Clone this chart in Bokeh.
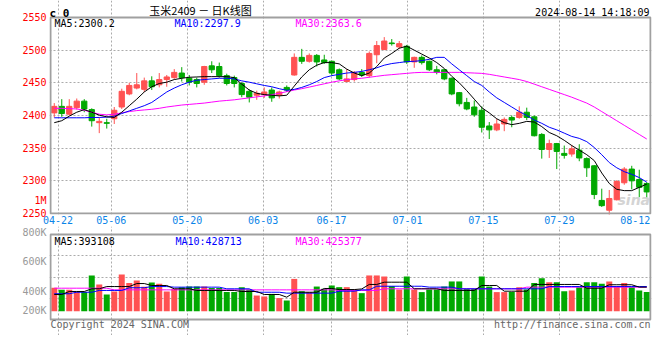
from bokeh.plotting import figure
from bokeh.layouts import column
from bokeh.models import FixedTicker, Label, Range1d, ColumnDataSource
from bokeh.embed import file_html
from bokeh.resources import INLINE

# ---------------- data ----------------
open_ = [2404, 2414, 2402, 2412, 2422, 2409, 2389, 2389, 2395, 2413,
         2433, 2442, 2440, 2453, 2447, 2455, 2458, 2465, 2457, 2455,
         2451, 2476, 2475, 2461, 2458, 2449, 2437, 2431, 2432, 2439,
         2431, 2443, 2462, 2489, 2483, 2492, 2485, 2483, 2470, 2452,
         2455, 2466, 2461, 2493, 2501, 2511, 2505, 2506, 2482, 2489,
         2483, 2470, 2470, 2457, 2435, 2420, 2413, 2408, 2384, 2378,
         2387, 2397, 2397, 2405, 2398, 2371, 2348, 2357, 2342, 2341,
         2347, 2334, 2323, 2270, 2255, 2271, 2297, 2318, 2302, 2296]
high = [2419, 2425, 2425, 2426, 2425, 2411, 2397, 2395, 2413, 2441,
        2450, 2465, 2458, 2460, 2465, 2462, 2471, 2474, 2462, 2458,
        2476, 2483, 2481, 2464, 2461, 2451, 2440, 2438, 2443, 2443,
        2438, 2446, 2495, 2502, 2495, 2494, 2493, 2484, 2472, 2471,
        2468, 2471, 2498, 2514, 2520, 2517, 2514, 2508, 2490, 2492,
        2484, 2476, 2471, 2458, 2436, 2427, 2423, 2414, 2390, 2395,
        2397, 2400, 2414, 2412, 2400, 2373, 2363, 2358, 2354, 2355,
        2356, 2336, 2324, 2288, 2286, 2301, 2321, 2323, 2317, 2298]
low = [2397, 2398, 2400, 2409, 2405, 2383, 2373, 2380, 2387, 2410,
       2431, 2440, 2436, 2439, 2443, 2444, 2456, 2452, 2446, 2443,
       2447, 2465, 2458, 2446, 2443, 2428, 2420, 2424, 2427, 2421,
       2426, 2436, 2461, 2479, 2481, 2475, 2479, 2461, 2454, 2451,
       2452, 2459, 2458, 2480, 2500, 2507, 2502, 2479, 2473, 2478,
       2468, 2463, 2454, 2431, 2414, 2408, 2398, 2374, 2364, 2376,
       2376, 2382, 2395, 2393, 2368, 2334, 2335, 2318, 2334, 2337,
       2330, 2306, 2272, 2260, 2247, 2270, 2294, 2287, 2275, 2275]
close = [2414, 2403, 2414, 2422, 2410, 2392, 2391, 2388, 2408, 2437,
         2446, 2447, 2453, 2444, 2455, 2459, 2466, 2458, 2451, 2449,
         2475, 2470, 2461, 2449, 2449, 2432, 2428, 2434, 2436, 2427,
         2436, 2439, 2489, 2483, 2492, 2482, 2481, 2465, 2456, 2456,
         2466, 2462, 2495, 2507, 2514, 2510, 2510, 2482, 2489, 2481,
         2470, 2466, 2456, 2433, 2418, 2410, 2401, 2382, 2378, 2387,
         2394, 2393, 2405, 2397, 2369, 2348, 2357, 2345, 2339, 2349,
         2335, 2320, 2279, 2262, 2273, 2299, 2318, 2300, 2290, 2283]
ma5 = [2389, 2392, 2399, 2405, 2409, 2405, 2400.5, 2398, 2397, 2405,
       2415, 2425, 2436, 2444, 2449, 2451, 2455, 2457, 2458.5, 2459,
       2459.5, 2459.5, 2459.5, 2459.5, 2458, 2448, 2439, 2434, 2432, 2431,
       2430, 2431, 2445, 2459, 2470, 2477, 2481, 2481, 2479, 2471,
       2465, 2461, 2465, 2475, 2488, 2495, 2503, 2506, 2500, 2494,
       2488, 2481, 2472, 2460, 2450, 2438, 2425, 2412, 2404, 2395,
       2389, 2386, 2388, 2391, 2390, 2383, 2374, 2369, 2362, 2354,
       2347, 2340, 2331, 2312, 2296, 2287, 2285, 2285, 2290, 2295]
ma10 = [2396.5, 2396.5, 2396.5, 2396.5, 2396.5, 2397, 2397, 2397.5, 2399, 2403,
        2407, 2411, 2415, 2420, 2428, 2436, 2442, 2447, 2451, 2454,
        2455, 2456, 2457, 2457, 2456, 2453, 2451, 2448.5, 2446, 2444,
        2441, 2438.5, 2440, 2443, 2447, 2452, 2458, 2461, 2463, 2465,
        2466, 2467.5, 2470, 2473, 2477, 2479.5, 2481, 2482.5, 2483, 2484,
        2486, 2489, 2489, 2479, 2470, 2461, 2452, 2446, 2436, 2427,
        2420, 2413, 2406, 2400, 2393, 2388, 2382, 2378, 2373, 2368,
        2365, 2360, 2351, 2340, 2328, 2320, 2314, 2310, 2305, 2298]
ma30 = [2411, 2411, 2410.5, 2410, 2408, 2405, 2402, 2401, 2402, 2404,
        2406, 2407.5, 2408.5, 2409.5, 2411, 2413, 2414.5, 2416, 2417, 2418,
        2419, 2420.5, 2422, 2423, 2424, 2425.5, 2427, 2428.5, 2430, 2432,
        2434, 2436.5, 2439, 2441, 2443.5, 2446, 2448.5, 2451, 2453, 2455,
        2456, 2457, 2458.5, 2460, 2461.5, 2462.5, 2463.5, 2464.5, 2465.5, 2466,
        2466, 2466, 2466, 2466, 2466, 2465.5, 2465, 2464.5, 2463, 2461,
        2459, 2457, 2455, 2452, 2448, 2444, 2440, 2436, 2432, 2428,
        2423.5, 2419, 2413, 2406, 2399, 2392, 2385, 2378, 2371, 2364]
volume = [425, 412, 412, 396, 396, 507, 447, 380, 400, 513,
          456, 473, 431, 460, 451, 400, 418, 429, 433, 433,
          433, 424, 424, 396, 396, 429, 413, 373, 367, 384,
          356, 340, 484, 402, 396, 433, 418, 440, 429, 429,
          413, 389, 507, 507, 500, 436, 413, 500, 413, 396,
          413, 413, 433, 467, 467, 418, 418, 500, 433, 396,
          396, 396, 429, 413, 456, 489, 462, 462, 402, 407,
          429, 462, 462, 451, 467, 436, 456, 429, 407, 396]  # thousand lots
vol_ma5 = [380, 380, 400, 400, 400, 418, 418, 433, 433, 433,
           433, 453, 453, 440, 440, 440, 418, 418, 418, 407,
           407, 407, 407, 407, 407, 400, 400, 400, 380, 380,
           380, 362, 395, 395, 395, 395, 420, 420, 413, 413,
           413, 417, 447, 447, 462, 462, 462, 462, 418, 418,
           418, 418, 407, 407, 407, 407, 407, 440, 440, 440,
           402, 402, 402, 402, 447, 447, 447, 447, 447, 447,
           447, 422, 422, 422, 445, 445, 445, 445, 429, 429]
vol_ma10 = [385, 385, 385, 395, 395, 395, 407, 407, 407, 407,
            425, 425, 425, 433, 433, 433, 429, 429, 429, 429,
            429, 429, 429, 418, 418, 418, 418, 395, 395, 395,
            395, 389, 389, 389, 389, 389, 389, 389, 402, 402,
            402, 411, 411, 435, 435, 435, 435, 435, 435, 435,
            429, 429, 429, 429, 418, 418, 418, 418, 418, 418,
            418, 418, 418, 418, 418, 418, 433, 433, 433, 433,
            433, 433, 433, 433, 433, 433, 433, 433, 433, 433]
vol_ma30 = [422] * 8 + [411] * 30 + [407] * 6 + [418] * 19 + [429] * 17
VOL_BASE = 268  # thousand, where Sina starts its volume bars

date_idx = [1, 8, 18, 28, 37, 47, 57, 67, 77]
date_lbl = ["04-22", "05-06", "05-20", "06-03", "06-17", "07-01", "07-15", "07-29", "08-12"]
price_ticks = [2250, 2300, 2350, 2400, 2450, 2500, 2550]
price_lo, price_hi = 2250, 2550
vol_ticks = [400000, 600000, 800000]
vol_tick_lbl = ["400K", "600K", "800K"]
vol_lo, vol_hi = 213333, 780000          # volume panel bottom / top
ma_text = ["MA5:2300.2", "MA10:2297.9", "MA30:2363.6"]
vol_ma_text = ["MA5:393108", "MA10:428713", "MA30:425377"]

# ---------------- layout constants (pixels) ----------------
PANEL_H = 196      # price panel height
HEAD = 17          # header strip above price panel
PAD = 1            # half border width around panels
XAX = 12           # date axis height
VOL_H = 85         # volume panel height
VOL_HEAD = 8       # gap above volume panel (800K label)
VOL_FOOT = 16      # copyright strip
CW = 7.5           # candle slot width

n = len(close)
RED = "#FF5252"
GREEN = "#00A800"
colors = [RED if c >= o else GREEN for o, c in zip(open_, close)]
xs = list(range(n))
src = ColumnDataSource(dict(
    x=xs, o=open_, h=high, l=low, c=close,
    top=[max(o, c) for o, c in zip(open_, close)],
    bot=[min(o, c) for o, c in zip(open_, close)],
    color=colors,
    vol=[v * 1000 for v in volume],
    vbase=[VOL_BASE * 1000] * n,
    ma5=ma5, ma10=ma10, ma30=ma30,
    vma5=[v * 1000 for v in vol_ma5],
    vma10=[v * 1000 for v in vol_ma10],
    vma30=[v * 1000 for v in vol_ma30],
))

# Sina spaces its date grid over n-1 intervals across the full width
tick_pos = [round(d * n / (n - 1) - 0.5, 4) for d in date_idx]

MONO = "DejaVu Sans Mono"
GRID = "#ABABAB"
FRAME = "#A0A0A0"
x0, x1 = -0.5, n - 0.5
xr = Range1d(x0 - PAD / CW, x1 + PAD / CW)

def lab(p, x, y, text, color="#000000", size="10px", font=MONO, align="left",
        baseline="middle", style="normal", level="annotation"):
    p.add_layout(Label(x=x, y=y, x_units="screen", y_units="screen", text=text,
                       text_color=color, text_font=font, text_font_size=size,
                       text_align=align, text_baseline=baseline, text_font_style=style,
                       level=level))

def style_axis(ax, color):
    ax.axis_line_color = None
    ax.major_tick_line_color = None
    ax.minor_tick_line_color = None
    ax.major_tick_out = 0
    ax.major_tick_in = 0
    ax.minor_tick_out = 0
    ax.minor_tick_in = 0
    ax.major_label_text_font = MONO
    ax.major_label_text_font_size = "10px"
    ax.major_label_text_color = color

def add_borders(p, ylo, yhi):
    p.quad(left=x0, right=x1, bottom=ylo, top=yhi, fill_color=None,
           line_color=FRAME, line_width=2)

# ---------------- price panel ----------------
upp = (price_hi - price_lo) / PANEL_H
p1 = figure(frame_width=600 + 2 * PAD, frame_height=HEAD + PANEL_H + PAD,
            x_range=xr,
            y_range=Range1d(price_lo - PAD * upp, price_hi + HEAD * upp),
            output_backend="svg", toolbar_location=None,
            min_border_left=50 - PAD, min_border_right=8 - PAD,
            min_border_top=0, min_border_bottom=XAX,
            background_fill_color="white", border_fill_color="white",
            outline_line_color=None)

one_m = price_lo + 13 * upp   # where Sina prints its "1M" marker
p1.yaxis.ticker = FixedTicker(ticks=price_ticks + [one_m])
p1.yaxis.major_label_overrides = {one_m: "1M"}
p1.xaxis.ticker = FixedTicker(ticks=tick_pos)
p1.xaxis.major_label_overrides = {t: l for t, l in zip(tick_pos, date_lbl)}
style_axis(p1.yaxis[0], "#FF0000")
style_axis(p1.xaxis[0], "#0A84E8")
p1.yaxis.major_label_standoff = 2 + PAD
p1.xaxis.major_label_standoff = 1

p1.xgrid.ticker = FixedTicker(ticks=tick_pos[:-1])
p1.xgrid.bounds = (price_lo, price_hi)
p1.ygrid.ticker = FixedTicker(ticks=price_ticks[1:-1])
p1.ygrid.bounds = (x0, x1)
for g in (p1.xgrid[0], p1.ygrid[0]):
    g.grid_line_color = GRID
    g.grid_line_dash = "2 2"
    g.grid_line_width = 1

lab(p1, 568, 15, "sina", "#D4D4D4", size="14px", font="DejaVu Sans",
    style="bold italic", baseline="middle", level="underlay")

p1.segment(x0="x", y0="l", x1="x", y1="h", color="color", line_width=1, source=src)
p1.vbar(x="x", width=0.7, top="top", bottom="bot", fill_color="color",
        line_color="color", line_width=1, source=src)
p1.line("x", "ma30", color="#FF00FF", line_width=1, source=src)
p1.line("x", "ma10", color="#0000FF", line_width=1, source=src)
p1.line("x", "ma5", color="#000000", line_width=1, source=src)
add_borders(p1, price_lo, price_hi)

ftop = HEAD + PANEL_H + PAD   # frame height, labels measured from frame bottom
lab(p1, 5, ftop - 17, ma_text[0], "#000000", baseline="top")
lab(p1, 125, ftop - 17, ma_text[1], "#0000FF", baseline="top")
lab(p1, 246, ftop - 17, ma_text[2], "#FF00FF", baseline="top")
lab(p1, 0, ftop - 12.5, "c 0", "#000000", size="11px", style="bold")
lab(p1, 151, ftop - 9.5, "玉米2409 － 日K线图", "#000000", size="11px",
    font="Noto Sans CJK SC", align="center")
lab(p1, 600, ftop - 12, "2024-08-14 14:18:09", "#000000", align="right")

# ---------------- volume panel ----------------
vpp = (vol_hi - vol_lo) / VOL_H
p2 = figure(frame_width=600 + 2 * PAD, frame_height=VOL_HEAD + VOL_H + VOL_FOOT,
            x_range=xr,
            y_range=Range1d(vol_lo - VOL_FOOT * vpp, vol_hi + VOL_HEAD * vpp),
            x_axis_location=None,
            output_backend="svg", toolbar_location=None,
            min_border_left=50 - PAD, min_border_right=8 - PAD,
            min_border_top=0, min_border_bottom=0,
            background_fill_color="white", border_fill_color="white",
            outline_line_color=None)
low_lbl = vol_lo + 9 * vpp   # Sina's lowest volume label sits just above the bar floor
p2.yaxis.ticker = FixedTicker(ticks=[low_lbl] + vol_ticks)
p2.yaxis.major_label_overrides = dict(zip([low_lbl] + vol_ticks, ["200K"] + vol_tick_lbl))
style_axis(p2.yaxis[0], "#999999")
p2.yaxis.major_label_standoff = 2 + PAD

p2.xgrid.ticker = FixedTicker(ticks=tick_pos[:-1])
p2.xgrid.bounds = (vol_lo, vol_hi)
p2.ygrid.ticker = FixedTicker(ticks=[vol_lo + (vol_hi - vol_lo) * k / 4 for k in (1, 2, 3)])
p2.ygrid.bounds = (x0, x1)
for g in (p2.xgrid[0], p2.ygrid[0]):
    g.grid_line_color = GRID
    g.grid_line_dash = "2 2"
    g.grid_line_width = 1

p2.vbar(x="x", width=0.8, top="vol", bottom="vbase", fill_color="color",
        line_color=None, source=src)
p2.line("x", "vma30", color="#FF00FF", line_width=1, source=src)
p2.line("x", "vma10", color="#0000FF", line_width=1, source=src)
p2.line("x", "vma5", color="#000000", line_width=1, source=src)
add_borders(p2, vol_lo, vol_hi)

vtop = VOL_HEAD + VOL_H + VOL_FOOT
lab(p2, 5, vtop - VOL_HEAD - 1, vol_ma_text[0], "#000000", baseline="top")
lab(p2, 126, vtop - VOL_HEAD - 1, vol_ma_text[1], "#0000FF", baseline="top")
lab(p2, 246, vtop - VOL_HEAD - 1, vol_ma_text[2], "#FF00FF", baseline="top")
lab(p2, 1, VOL_FOOT - 4.7, "Copyright 2024 SINA.COM", "#666666")
lab(p2, 601, VOL_FOOT - 4.7, "http://finance.sina.com.cn", "#666666", align="right")

layout = column(p1, p2)
open("out.html", "w").write(file_html(layout, INLINE))
